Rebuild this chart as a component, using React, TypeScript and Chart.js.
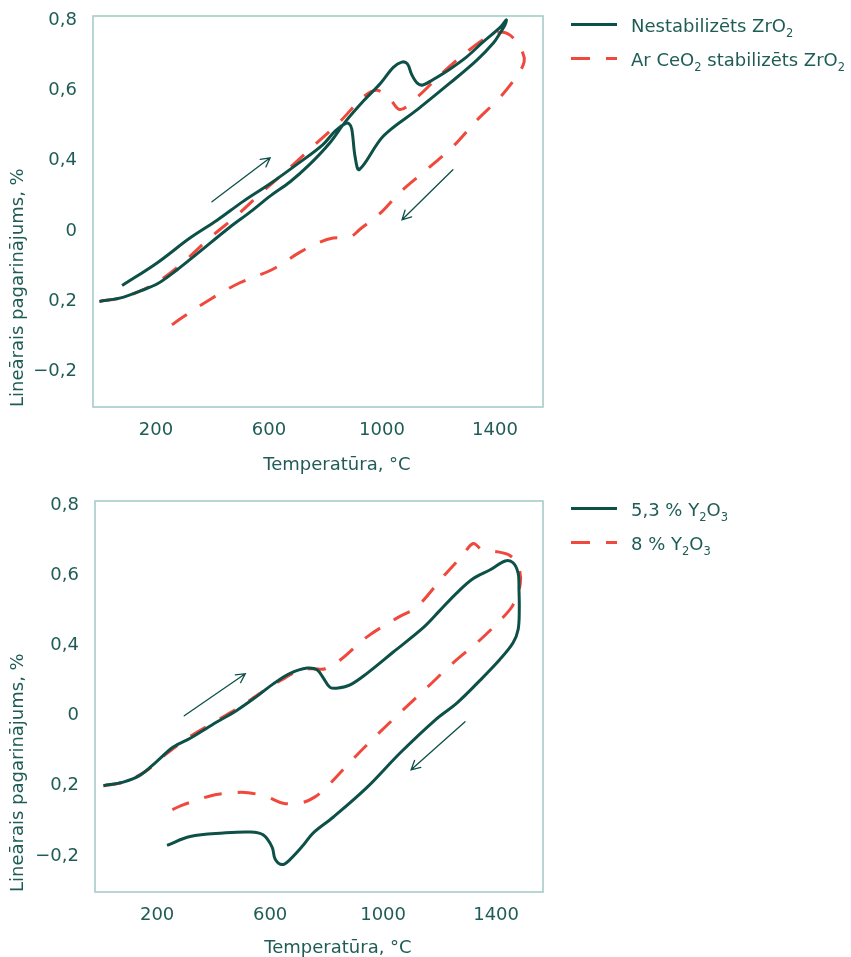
import React, { useEffect, useRef } from 'react';
import { Chart, registerables } from 'chart.js';

Chart.register(...registerables);

// ---------- data ----------
const xTickValues = [200, 600, 1000, 1400];
const yTickValues = [-0.2, 0, 0.2, 0.4, 0.6, 0.8];
const yTickLabels = ['−0,2', '0,2', '0', '0,4', '0,6', '0,8'];

const xTitle = 'Temperatūra, °C';
const yTitle = 'Lineārais pagarinājums, %';

// "_x" marks a subscript character
const topSeriesLabels = ['Nestabilizēts ZrO_2', 'Ar CeO_2 stabilizēts ZrO_2'];
const bottomSeriesLabels = ['5,3 % Y_2O_3', '8 % Y_2O_3'];

type P = [number, number];

const unstabilizedZrO2: P[] = [
  [0, 0.0], [75, 0.01], [145, 0.03], [205, 0.05], [275, 0.09], [345, 0.135],
  [460, 0.21], [535, 0.255], [605, 0.3], [675, 0.34], [745, 0.39], [815, 0.45], [870, 0.51],
  [935, 0.57], [995, 0.62], [1040, 0.665], [1070, 0.68], [1090, 0.675], [1105, 0.645],
  [1125, 0.62], [1145, 0.615], [1180, 0.63], [1240, 0.66], [1300, 0.695], [1355, 0.735],
  [1420, 0.78], [1440, 0.8], [1435, 0.785], [1420, 0.765], [1395, 0.735], [1335, 0.685],
  [1240, 0.62], [1125, 0.545], [1005, 0.47], [920, 0.375], [905, 0.41], [893, 0.49],
  [883, 0.505], [870, 0.505], [835, 0.485], [790, 0.445], [700, 0.39], [605, 0.335],
  [510, 0.285], [415, 0.23], [320, 0.18], [205, 0.11], [80, 0.045],
];

const ceO2StabilizedZrO2: P[] = [
  [0, 0.0], [75, 0.01], [145, 0.03], [215, 0.06], [295, 0.11], [390, 0.18], [480, 0.24],
  [575, 0.31], [667, 0.375], [755, 0.44], [850, 0.51], [933, 0.58], [982, 0.6], [1028, 0.575],
  [1064, 0.545], [1124, 0.58], [1215, 0.65], [1310, 0.715], [1382, 0.755], [1428, 0.765],
  [1463, 0.75], [1499, 0.705], [1503, 0.68], [1481, 0.645], [1418, 0.58], [1336, 0.515],
  [1251, 0.44], [1159, 0.375], [1064, 0.31], [993, 0.25], [922, 0.205], [887, 0.183],
  [827, 0.18], [770, 0.165], [710, 0.14], [610, 0.09], [497, 0.053], [390, 0.005],
  [285, -0.05], [235, -0.08],
];

const y2o3_53: P[] = [
  [10, 0.0], [80, 0.01], [140, 0.03], [200, 0.07], [257, 0.11], [317, 0.135], [398, 0.175],
  [483, 0.215], [554, 0.255], [611, 0.29], [671, 0.32], [731, 0.335], [766, 0.33], [788, 0.307],
  [812, 0.28], [841, 0.278], [883, 0.287], [943, 0.32], [1035, 0.38], [1142, 0.45], [1202, 0.5],
  [1262, 0.55], [1319, 0.59], [1379, 0.615], [1432, 0.64], [1460, 0.635], [1478, 0.605],
  [1481, 0.557], [1482, 0.5], [1478, 0.445], [1460, 0.407], [1414, 0.36], [1343, 0.3],
  [1262, 0.236], [1184, 0.187], [1060, 0.093], [943, -0.005], [823, -0.09], [752, -0.135],
  [717, -0.17], [671, -0.21], [643, -0.225], [618, -0.21], [607, -0.175], [575, -0.14],
  [529, -0.132], [434, -0.135], [317, -0.145], [235, -0.17],
];

const y2o3_8: P[] = [
  [10, 0.0], [80, 0.01], [158, 0.04], [228, 0.088], [317, 0.14], [405, 0.182], [494, 0.225],
  [582, 0.273], [653, 0.307], [706, 0.33], [752, 0.333], [795, 0.333], [848, 0.358], [943, 0.424],
  [1050, 0.478], [1120, 0.51], [1212, 0.595], [1280, 0.655], [1319, 0.69], [1350, 0.672],
  [1407, 0.666], [1450, 0.655], [1481, 0.62], [1485, 0.572], [1460, 0.515], [1425, 0.48],
  [1343, 0.415], [1248, 0.35], [1156, 0.28], [1067, 0.213], [979, 0.145], [890, 0.073],
  [805, 0.0], [759, -0.032], [706, -0.05], [646, -0.05], [589, -0.032], [522, -0.02],
  [469, -0.02], [405, -0.026], [352, -0.038], [292, -0.055], [235, -0.075],
];

// arrows: [fromX, fromY, toX, toY] in data units
const arrowsTop = [
  [398, 0.283, 604, 0.408],
  [1251, 0.374, 1071, 0.232],
];
const arrowsBottom = [
  [296, 0.199, 512, 0.319],
  [1290, 0.182, 1099, 0.045],
];

// ---------- styles ----------
const FONT = '"DejaVu Sans"';
const TEXT = '#1f5c56';
const GREEN = '#0c5048';
const RED = '#f0483d';
const FRAME = '#a6cbc9';
const DASH = [18, 16];

function segments(label: string) {
  const out: { s: string; sub: boolean }[] = [];
  let buf = '';
  for (let i = 0; i < label.length; i++) {
    if (label[i] === '_' && i + 1 < label.length) {
      if (buf) out.push({ s: buf, sub: false });
      buf = '';
      out.push({ s: label[i + 1], sub: true });
      i++;
    } else buf += label[i];
  }
  if (buf) out.push({ s: buf, sub: false });
  return out;
}

function drawRich(ctx: CanvasRenderingContext2D, label: string, x: number, baseline: number) {
  let cx = x;
  ctx.fillStyle = TEXT;
  ctx.textAlign = 'left';
  ctx.textBaseline = 'alphabetic';
  for (const seg of segments(label)) {
    ctx.font = seg.sub ? `11.5px ${FONT}` : `18px ${FONT}`;
    ctx.fillText(seg.s, cx, seg.sub ? baseline + 5 : baseline);
    cx += ctx.measureText(seg.s).width;
  }
}

interface Cfg {
  series: P[][];
  labels: string[];
  arrows: number[][];
  xMin: number;
  xMax: number;
  yMin: number;
  yMax: number;
  padTop: number;
  yAxisW: number;
  padRight: number;
  xAxisH: number;
  legendY: number;
  titleDy: number;
}

function makeChart(canvas: HTMLCanvasElement, c: Cfg) {
  const overlay = {
    id: 'overlay',
    beforeDraw(chart: any) {
      const { ctx, chartArea: a } = chart;
      ctx.save();
      ctx.strokeStyle = FRAME;
      ctx.lineWidth = 1.6;
      ctx.strokeRect(a.left, a.top, a.right - a.left, a.bottom - a.top);
      ctx.restore();
    },
    afterDraw(chart: any) {
      const { ctx, chartArea: a } = chart;
      const xs = chart.scales.x;
      const ys = chart.scales.y;
      ctx.save();
      // arrows
      ctx.strokeStyle = GREEN;
      ctx.lineWidth = 1.3;
      ctx.lineCap = 'round';
      for (const [x0, y0, x1, y1] of c.arrows) {
        const px0 = xs.getPixelForValue(x0);
        const py0 = ys.getPixelForValue(y0);
        const px1 = xs.getPixelForValue(x1);
        const py1 = ys.getPixelForValue(y1);
        const ang = Math.atan2(py1 - py0, px1 - px0);
        const L = 10;
        const w = (28 * Math.PI) / 180;
        ctx.beginPath();
        ctx.moveTo(px0, py0);
        ctx.lineTo(px1, py1);
        ctx.moveTo(px1 - L * Math.cos(ang - w), py1 - L * Math.sin(ang - w));
        ctx.lineTo(px1, py1);
        ctx.lineTo(px1 - L * Math.cos(ang + w), py1 - L * Math.sin(ang + w));
        ctx.stroke();
      }
      // legend
      const lx0 = a.right + 28;
      const lx1 = lx0 + 46;
      c.labels.forEach((lab, i) => {
        const y = c.legendY + i * 34;
        ctx.beginPath();
        ctx.lineWidth = 3;
        ctx.lineCap = 'butt';
        ctx.strokeStyle = i === 0 ? GREEN : RED;
        ctx.setLineDash(i === 0 ? [] : [19, 16]);
        ctx.moveTo(lx0, y);
        ctx.lineTo(lx1, y);
        ctx.stroke();
        ctx.setLineDash([]);
        drawRich(ctx, lab, lx1 + 14, y + 7.5);
      });
      // x axis title
      ctx.font = `18px ${FONT}`;
      ctx.fillStyle = TEXT;
      ctx.textAlign = 'center';
      ctx.textBaseline = 'alphabetic';
      ctx.fillText(xTitle, (a.left + a.right) / 2 + 19, a.bottom + c.titleDy);
      ctx.restore();
    },
  };

  return new Chart(canvas, {
    type: 'line',
    data: {
      datasets: c.series.map((s, i) => ({
        label: c.labels[i].replace(/_/g, ''),
        data: s.map(([x, y]) => ({ x, y })),
        borderColor: i === 0 ? GREEN : RED,
        borderWidth: 3,
        borderDash: i === 0 ? [] : DASH,
        borderJoinStyle: 'round',
        pointRadius: 0,
        pointHoverRadius: 0,
        tension: 0.35,
        fill: false,
      })),
    },
    options: {
      animation: false,
      responsive: false,
      maintainAspectRatio: false,
      events: [],
      layout: { padding: { left: 0, top: c.padTop, right: c.padRight, bottom: 0 } },
      plugins: { legend: { display: false }, tooltip: { enabled: false } },
      scales: {
        x: {
          type: 'linear',
          min: c.xMin,
          max: c.xMax,
          grid: { display: false, drawTicks: false },
          border: { display: false },
          ticks: {
            color: TEXT,
            font: { family: FONT, size: 18 },
            padding: 13,
            autoSkip: false,
            maxRotation: 0,
            callback: (v: any) => String(v),
          },
          afterBuildTicks: (s: any) => {
            s.ticks = xTickValues.map((v) => ({ value: v }));
          },
          afterFit: (s: any) => {
            s.height = c.xAxisH;
            s.paddingLeft = 0;
            s.paddingRight = 0;
            s.paddingTop = 0;
            s.paddingBottom = 0;
          },
        },
        y: {
          type: 'linear',
          min: c.yMin,
          max: c.yMax,
          grid: { display: false, drawTicks: false },
          border: { display: false },
          ticks: {
            color: TEXT,
            font: { family: FONT, size: 18 },
            padding: 16,
            autoSkip: false,
            callback: (_v: any, i: number) => yTickLabels[i],
          },
          afterBuildTicks: (s: any) => {
            s.ticks = yTickValues.map((v) => ({ value: v }));
          },
          afterFit: (s: any) => {
            s.width = c.yAxisW;
            s.paddingLeft = 0;
            s.paddingRight = 0;
            s.paddingTop = 0;
            s.paddingBottom = 0;
          },
          title: {
            display: true,
            text: yTitle,
            align: 'start',
            color: TEXT,
            font: { family: FONT, size: 18 },
            padding: { top: 8, bottom: 0 },
          },
        },
      },
    },
    plugins: [overlay],
  } as any);
}

export default function App() {
  const topRef = useRef<HTMLCanvasElement>(null);
  const botRef = useRef<HTMLCanvasElement>(null);

  useEffect(() => {
    const top = makeChart(topRef.current!, {
      series: [unstabilizedZrO2, ceO2StabilizedZrO2],
      labels: topSeriesLabels,
      arrows: arrowsTop,
      xMin: -23,
      xMax: 1570,
      yMin: -0.3,
      yMax: 0.811,
      padTop: 16,
      yAxisW: 93,
      padRight: 308,
      xAxisH: 73,
      legendY: 24.5,
      titleDy: 63,
    });
    const bot = makeChart(botRef.current!, {
      series: [y2o3_53, y2o3_8],
      labels: bottomSeriesLabels,
      arrows: arrowsBottom,
      xMin: -20,
      xMax: 1566,
      yMin: -0.303,
      yMax: 0.811,
      padTop: 21,
      yAxisW: 95,
      padRight: 308,
      xAxisH: 65,
      legendY: 28.5,
      titleDy: 61,
    });
    return () => {
      top.destroy();
      bot.destroy();
    };
  }, []);

  return (
    <div
      style={{
        position: 'absolute',
        left: 0,
        top: 0,
        width: 851,
        height: 957,
        overflow: 'hidden',
        background: '#ffffff',
      }}
    >
      <canvas
        ref={topRef}
        width={851}
        height={480}
        style={{ position: 'absolute', left: 0, top: 0, width: 851, height: 480 }}
      />
      <canvas
        ref={botRef}
        width={851}
        height={477}
        style={{ position: 'absolute', left: 0, top: 480, width: 851, height: 477 }}
      />
    </div>
  );
}
